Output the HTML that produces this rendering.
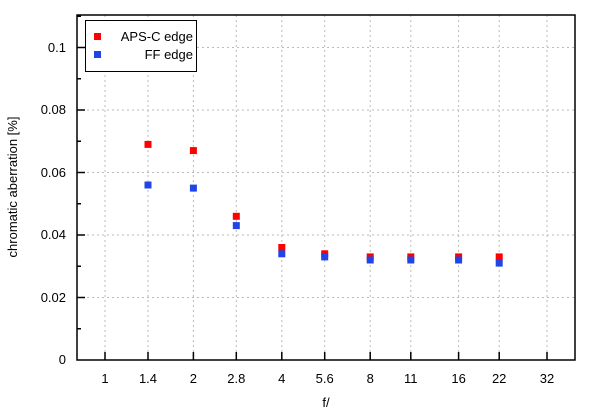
<!DOCTYPE html><html><head><style>body{margin:0;background:#fff}svg{display:block}text{font-family:"Liberation Sans",sans-serif;font-size:13px;fill:#000}</style></head><body>
<svg width="600" height="415" xmlns="http://www.w3.org/2000/svg">
<g stroke="#bbb" stroke-dasharray="2,3" stroke-width="1">
<line x1="77" x2="576" y1="297.5" y2="297.5"/><line x1="77" x2="576" y1="235" y2="235"/><line x1="77" x2="576" y1="172.5" y2="172.5"/><line x1="77" x2="576" y1="110" y2="110"/><line x1="77" x2="576" y1="47.5" y2="47.5"/>
<line y1="15" y2="360" x1="105" x2="105"/><line y1="15" y2="360" x1="148" x2="148"/><line y1="15" y2="360" x1="193.4" x2="193.4"/><line y1="15" y2="360" x1="236.3" x2="236.3"/><line y1="15" y2="360" x1="281.8" x2="281.8"/><line y1="15" y2="360" x1="324.7" x2="324.7"/><line y1="15" y2="360" x1="370.2" x2="370.2"/><line y1="15" y2="360" x1="410.8" x2="410.8"/><line y1="15" y2="360" x1="458.6" x2="458.6"/><line y1="15" y2="360" x1="499.2" x2="499.2"/><line y1="15" y2="360" x1="547" x2="547"/>
</g>
<rect x="77" y="15" width="498" height="345" fill="none" stroke="#000" stroke-width="1.5"/>
<g stroke="#000" stroke-width="1.5">
<path d="M77 297.5h8M77 235h8M77 172.5h8M77 110h8M77 47.5h8M77 328.75h4M77 266.25h4M77 203.75h4M77 141.25h4M77 78.75h4M77 16.25h4"/>
<path d="M105 360v-8M148 360v-8M193.4 360v-8M236.3 360v-8M281.8 360v-8M324.7 360v-8M370.2 360v-8M410.8 360v-8M458.6 360v-8M499.2 360v-8M547 360v-8"/>
</g>
<g text-anchor="end"><text x="66" y="364">0</text><text x="66" y="302">0.02</text><text x="66" y="239">0.04</text><text x="66" y="177">0.06</text><text x="66" y="114">0.08</text><text x="66" y="52">0.1</text></g>
<g text-anchor="middle"><text x="105" y="383">1</text><text x="148" y="383">1.4</text><text x="193.4" y="383">2</text><text x="236.3" y="383">2.8</text><text x="281.8" y="383">4</text><text x="324.7" y="383">5.6</text><text x="370.2" y="383">8</text><text x="410.8" y="383">11</text><text x="458.6" y="383">16</text><text x="499.2" y="383">22</text><text x="547" y="383">32</text>
<text x="326" y="407">f/</text>
<text transform="translate(17,187) rotate(-90)">chromatic aberration [%]</text></g>
<g fill="#f00">
<rect x="144.5" y="140.9" width="7" height="7"/><rect x="189.9" y="147.1" width="7" height="7"/><rect x="232.8" y="212.8" width="7" height="7"/><rect x="278.3" y="244" width="7" height="7"/><rect x="321.2" y="250.3" width="7" height="7"/><rect x="366.7" y="253.4" width="7" height="7"/><rect x="407.3" y="253.4" width="7" height="7"/><rect x="455.1" y="253.4" width="7" height="7"/><rect x="495.7" y="253.4" width="7" height="7"/>
</g>
<g fill="#1f45e6">
<rect x="144.5" y="181.5" width="7" height="7"/><rect x="189.9" y="184.6" width="7" height="7"/><rect x="232.8" y="222.1" width="7" height="7"/><rect x="278.3" y="250.3" width="7" height="7"/><rect x="321.2" y="253.4" width="7" height="7"/><rect x="366.7" y="256.5" width="7" height="7"/><rect x="407.3" y="256.5" width="7" height="7"/><rect x="455.1" y="256.5" width="7" height="7"/><rect x="495.7" y="259.6" width="7" height="7"/>
</g>
<rect x="85.5" y="20.5" width="111" height="51" fill="#fff" stroke="#000"/>
<rect x="94" y="33" width="7" height="7" fill="#f00"/><rect x="94" y="51" width="7" height="7" fill="#1f45e6"/>
<g text-anchor="end"><text x="193" y="41">APS-C edge</text><text x="193" y="59">FF edge</text></g>
</svg></body></html>
